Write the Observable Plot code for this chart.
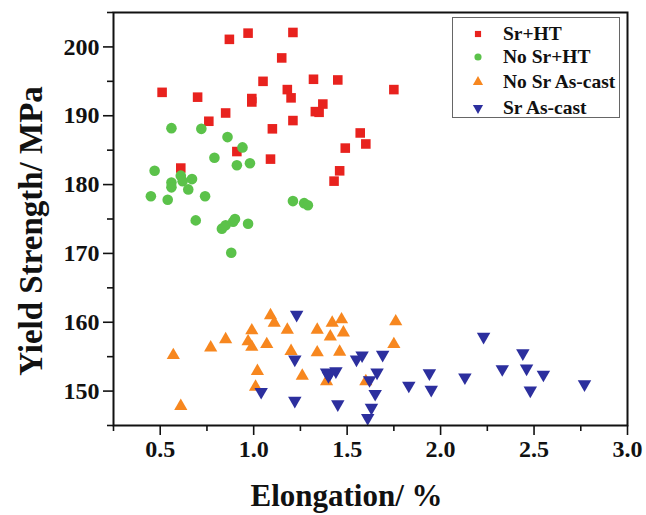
<!DOCTYPE html>
<html><head><meta charset="utf-8">
<script src="https://cdn.jsdelivr.net/npm/d3@7"></script>
<script src="https://cdn.jsdelivr.net/npm/@observablehq/plot@0.6"></script>
<style>
body{margin:0;background:#fff}
#wrap{position:relative;width:646px;height:515px;font-family:"Liberation Serif","Times New Roman",serif;font-weight:bold}
#legend{position:absolute;left:452px;top:17px;width:168px;height:101px;border:1.5px solid #666;box-sizing:border-box;background:#fff}
#legend .row{position:absolute;left:0;height:24px;line-height:24px;font-size:19.5px;color:#111;white-space:nowrap}
#legend svg{position:absolute;left:17px;top:4px}
#legend span{position:absolute;left:50px;top:0}
</style>
</head><body><div id="wrap"></div>
<script>
// Series names (legend order)
const seriesNames = ["Sr+HT", "No Sr+HT", "No Sr As-cast", "Sr As-cast"];
const seriesColors = ["#e8221e", "#5bc24a", "#f7871f", "#2c2f9e"];

// [elongation %, yield strength MPa]
const srHT = [
  [0.87,201.1],[0.97,202.0],[1.21,202.1],[1.15,198.4],[0.51,193.4],[0.70,192.7],[1.05,195.0],
  [0.99,192.5],[0.99,192.0],[1.18,193.8],[1.20,192.6],[1.32,195.3],[1.45,195.2],[1.75,193.8],
  [1.37,191.7],[1.33,190.6],[1.35,190.5],[0.85,190.4],[0.76,189.2],[1.21,189.3],[1.10,188.1],
  [1.57,187.5],[1.60,185.9],[1.49,185.3],[0.91,184.8],[1.09,183.7],[0.61,182.4],[1.46,182.0],[1.43,180.5]
];
const noSrHT = [
  [0.56,188.2],[0.72,188.1],[0.86,186.9],[0.94,185.4],[0.79,183.9],[0.91,182.8],[0.98,183.1],
  [0.47,182.0],[0.61,181.3],[0.56,180.3],[0.56,179.6],[0.62,180.5],[0.67,180.8],[0.65,179.3],
  [0.45,178.3],[0.54,177.8],[0.74,178.3],[0.69,174.8],[0.83,173.6],[0.85,174.1],[0.89,174.6],
  [0.90,175.0],[0.97,174.3],[0.88,170.1],[1.21,177.6],[1.27,177.3],[1.29,177.0]
];
const noSrCast = [
  [0.57,155.2],[0.77,156.3],[0.85,157.5],[0.99,158.8],[0.97,157.2],[0.99,156.4],[1.07,156.8],
  [1.09,161.0],[1.11,159.9],[1.02,152.9],[1.01,150.6],[0.61,147.8],[1.18,158.9],[1.34,158.9],
  [1.42,159.9],[1.47,160.4],[1.41,157.9],[1.48,158.5],[1.76,160.1],[1.75,156.8],[1.20,155.8],
  [1.34,155.6],[1.46,155.7],[1.26,152.2],[1.39,151.4],[1.60,151.4]
];
const srCast = [
  [1.23,161.1],[1.22,154.6],[1.04,149.9],[1.22,148.6],[1.39,152.7],[1.41,152.6],[1.44,152.9],
  [1.40,152.2],[1.45,148.1],[1.55,154.6],[1.58,155.2],[1.69,155.3],[1.66,152.7],[1.62,151.6],
  [1.65,149.6],[1.63,147.6],[1.61,146.1],[1.83,150.8],[1.94,152.6],[1.95,150.2],[2.13,152.0],
  [2.23,157.9],[2.33,153.2],[2.44,155.5],[2.46,153.3],[2.55,152.4],[2.48,150.1],[2.77,151.0]
];

// Axis ticks
const xTicks = [0.5, 1.0, 1.5, 2.0, 2.5, 3.0];
const xMinorTicks = [0.25, 0.75, 1.25, 1.75, 2.25, 2.75];
const yTicks = [150, 160, 170, 180, 190, 200];
const yMinorTicks = [145, 155, 165, 175, 185, 195, 205];
const xDomain = [0.25, 3.0];
const yDomain = [145, 205];
const xTitle = "Elongation/ %";
const yTitle = "Yield Strength/ MPa";

const triangleDown = {
  draw(context, size) {
    const s3 = Math.sqrt(3);
    const y = -Math.sqrt(size / (s3 * 3));
    context.moveTo(0, -y * 2);
    context.lineTo(-s3 * y, y);
    context.lineTo(s3 * y, y);
    context.closePath();
  }
};
const symbols = ["square", "circle", "triangle", triangleDown];
const radii = [5.4, 5.3, 4.9, 5.0];
const datasets = [srHT, noSrHT, noSrCast, srCast];

const font = "Liberation Serif";
const chart = Plot.plot({
  width: 646,
  height: 515,
  marginLeft: 113,
  marginRight: 19,
  marginTop: 12,
  marginBottom: 90,
  style: {fontFamily: font, fontWeight: "bold", background: "#fff", color: "#111"},
  x: {domain: xDomain},
  y: {domain: yDomain},
  marks: [
    ...datasets.map((d, i) => Plot.dot(d, {
      x: d => d[0], y: d => d[1], symbol: symbols[i], r: radii[i],
      fill: seriesColors[i], stroke: "none"
    })),
    Plot.axisX({ticks: xMinorTicks, tickSize: 6, tickFormat: () => "", strokeWidth: 1.6, label: null}),
    Plot.axisX({ticks: xTicks, tickSize: 10, tickPadding: 4, tickFormat: d3.format(".1f"),
      fontSize: 24, fontWeight: "bold", strokeWidth: 1.6, label: null}),
    Plot.axisY({ticks: yMinorTicks, tickSize: 6, tickFormat: () => "", strokeWidth: 1.6, label: null}),
    Plot.axisY({ticks: yTicks, tickSize: 10, tickPadding: 4, fontSize: 24, fontWeight: "bold",
      strokeWidth: 1.6, label: null}),
    Plot.frame({stroke: "#111", strokeWidth: 2}),
    Plot.text([xTitle], {frameAnchor: "bottom", dx: -24, dy: 80, fontSize: 31, fontWeight: "bold", fill: "#111"}),
    Plot.text([yTitle], {frameAnchor: "left", dx: -82, dy: 12, rotate: -90, textAnchor: "middle",
      fontSize: 33, fontWeight: "bold", fill: "#111"})
  ]
});
const wrap = document.getElementById("wrap");
wrap.appendChild(chart);

// Legend
const legend = document.createElement("div");
legend.id = "legend";
const rowCenters = [15.5, 39, 64, 89.5];
seriesNames.forEach((name, i) => {
  const row = document.createElement("div");
  row.className = "row";
  row.style.top = (rowCenters[i] - 12) + "px";
  const s = d3.create("svg").attr("width", 16).attr("height", 16);
  const sym = typeof symbols[i] === "string"
    ? {square: d3.symbolSquare, circle: d3.symbolCircle, triangle: d3.symbolTriangle}[symbols[i]]
    : symbols[i];
  s.append("path").attr("transform", "translate(8,8)")
    .attr("d", d3.symbol(sym, [38, 40, 45, 45][i])())
    .attr("fill", seriesColors[i]);
  row.appendChild(s.node());
  const t = document.createElement("span");
  t.textContent = name;
  row.appendChild(t);
  legend.appendChild(row);
});
wrap.appendChild(legend);
</script>
</body></html>
